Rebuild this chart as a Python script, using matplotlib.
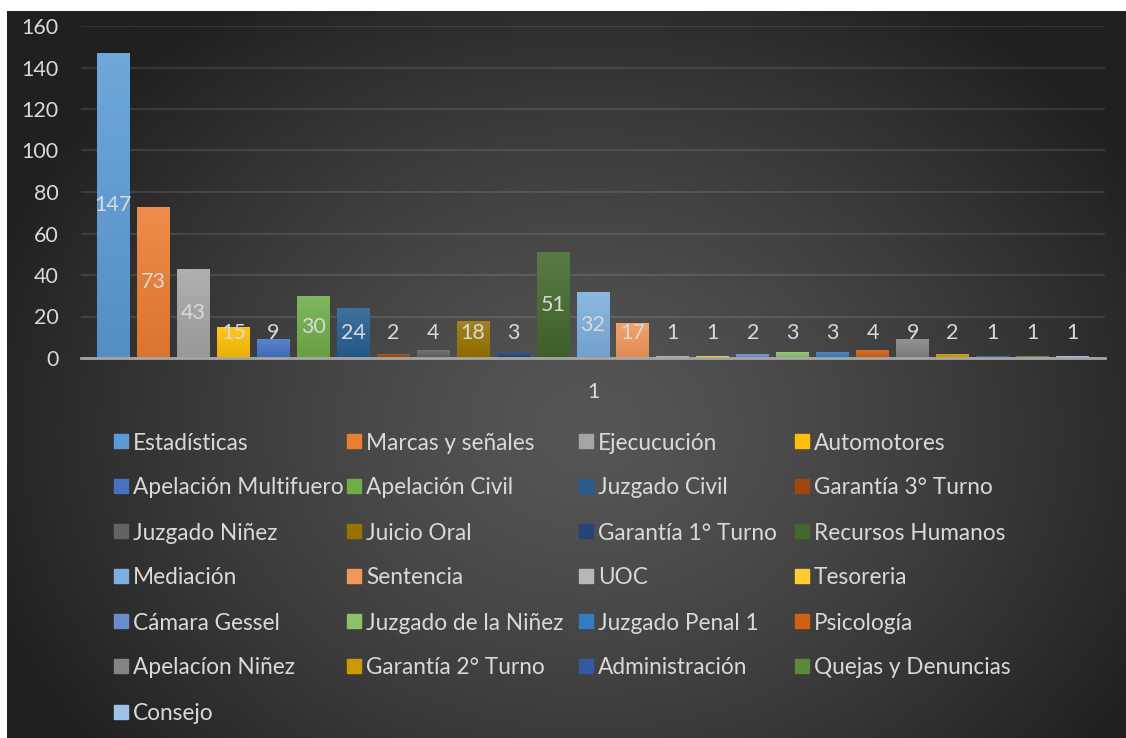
import numpy as np
import matplotlib

matplotlib.use("Agg")
import matplotlib.pyplot as plt
from matplotlib.colors import to_rgb
from matplotlib.patches import Rectangle

plt.rcParams["font.family"] = ["Lato", "DejaVu Sans"]

# one series per office, all in the single category "1"
offices = [
    "Estadísticas", "Marcas y señales", "Ejecucución", "Automotores",
    "Apelación Multifuero", "Apelación Civil", "Juzgado Civil", "Garantía 3° Turno",
    "Juzgado Niñez", "Juicio Oral", "Garantía 1° Turno", "Recursos Humanos",
    "Mediación", "Sentencia", "UOC", "Tesoreria",
    "Cámara Gessel", "Juzgado de la Niñez", "Juzgado Penal 1", "Psicología",
    "Apelacíon Niñez", "Garantía 2° Turno", "Administración", "Quejas y Denuncias",
    "Consejo",
]
counts = [147, 73, 43, 15, 9, 30, 24, 2, 4, 18, 3, 51, 32, 17, 1, 1, 2, 3, 3, 4, 9, 2, 1, 1, 1]
colors = [
    "#5B9BD5", "#ED7D31", "#A5A5A5", "#FFC000", "#4472C4", "#70AD47", "#255E91", "#9E480E",
    "#636363", "#997300", "#264478", "#43682B", "#7CAFDD", "#F1975A", "#B7B7B7", "#FFCD33",
    "#698ED0", "#8CC168", "#327DC2", "#D26012", "#848484", "#CC9A00", "#335AA1", "#5A8A39",
    "#9DC3E6",
]
category = "1"
yticks = [0, 20, 40, 60, 80, 100, 120, 140, 160]

TXT = "#d9d9d9"
W, H = 1126, 738

fig = plt.figure(figsize=(W / 100, H / 100), dpi=100)
fig.patch.set_facecolor("white")

# dark radial backdrop
bg = fig.add_axes([7 / W, 0, 1 - 7 / W, 1 - 11 / H], zorder=0)
gx, gy = np.meshgrid(np.linspace(7, W, 400), np.linspace(11, H, 300))
r = np.sqrt(((gx - 590) / 640) ** 2 + ((gy - 430) / 520) ** 2)
shade = 0x56 - (0x56 - 0x20) * np.clip(r, 0, 1) ** 1.3
img = np.dstack([shade / 255.0] * 3)
bg.imshow(img, extent=[0, 1, 0, 1], aspect="auto", origin="upper")
bg.set_axis_off()

x0, x1 = 81, 1105
y0, y1 = 358, 26
ax = fig.add_axes([x0 / W, 1 - y0 / H, (x1 - x0) / W, (y0 - y1) / H], zorder=1)
ax.patch.set_alpha(0)

bw = 0.825
grad = np.linspace(0, 1, 64).reshape(-1, 1)
for i, (v, c) in enumerate(zip(counts, colors)):
    base = np.array(to_rgb(c))
    top = base + (1 - base) * 0.12
    bot = base * 0.92
    g = top[None, None, :] * (1 - grad[:, :, None]) + bot[None, None, :] * grad[:, :, None]
    bar = ax.bar(i, v, width=bw, color=c, zorder=2)[0]
    im = ax.imshow(g, extent=[i - bw / 2, i + bw / 2, 0, v], aspect="auto",
                   origin="upper", zorder=3)
    im.set_clip_path(bar)
    ax.text(i, max(v / 2, 12), str(v), ha="center", va="center",
            color=TXT, fontsize=15.5, zorder=5)

ax.set_xlim(-0.8125, len(counts) - 1 + 0.8125)
ax.set_ylim(0, 160)
ax.set_yticks(yticks)
ax.set_yticklabels([str(t) for t in yticks])
ax.set_xticks([(len(counts) - 1) / 2])
ax.set_xticklabels([category])
ax.tick_params(axis="both", length=0, colors=TXT, labelsize=15.5)
ax.tick_params(axis="y", pad=16)
ax.tick_params(axis="x", pad=17)
ax.grid(axis="y", color="white", alpha=0.1, linewidth=1.6, zorder=1)
for s in ["top", "right", "left"]:
    ax.spines[s].set_visible(False)
ax.spines["bottom"].set_color("#a6a6a6")
ax.spines["bottom"].set_linewidth(2)
ax.spines["bottom"].set_zorder(6)

# legend, four columns laid out row by row
col_x = [114, 347, 579, 795]
row_y = [441, 486, 531, 576, 621, 666, 712]
sq = 14
for k, (name, c) in enumerate(zip(offices, colors)):
    cx = col_x[k % 4]
    cy = row_y[k // 4]
    fig.patches.append(Rectangle(((cx) / W, 1 - (cy + sq / 2) / H), sq / W, sq / H,
                                 transform=fig.transFigure, color=c, zorder=3))
    fig.text((cx + sq + 5) / W, 1 - cy / H, name, ha="left", va="center_baseline",
             color=TXT, fontsize=16.3, zorder=4)

fig.savefig("out.png", dpi=100)
